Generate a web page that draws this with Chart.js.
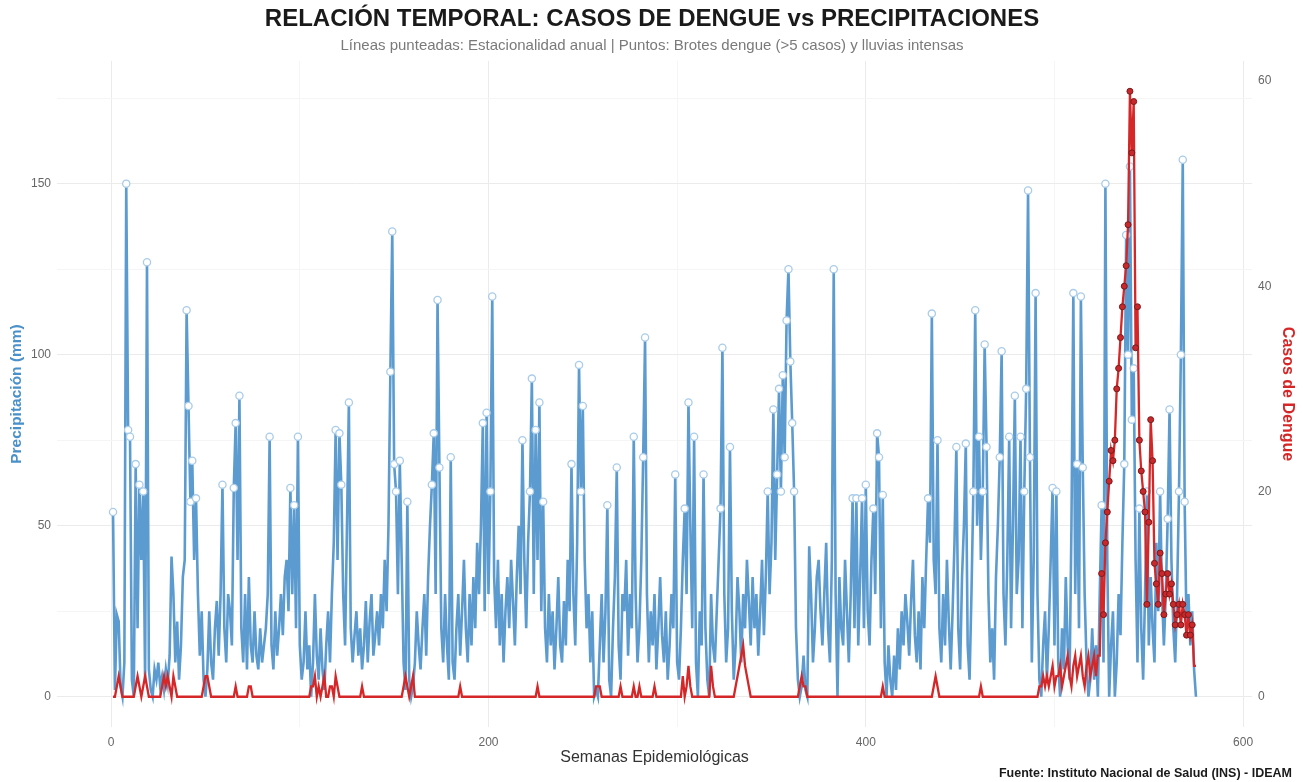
<!DOCTYPE html>
<html>
<head>
<meta charset="utf-8">
<script src="https://cdn.jsdelivr.net/npm/chart.js@4.4.1/dist/chart.umd.min.js"></script>
<style>
  html, body { margin: 0; padding: 0; background: #fff; }
  #wrap { width: 1304px; height: 782px; }
</style>
</head>
<body>
<div id="wrap"><canvas id="chart" width="1304" height="782"></canvas></div>
<script>
// precipitación semanal (mm), semanas 1..575
const precipitacion = [
  54,2,24,22,3,0,10,150,78,76,5,0,68,20,62,40,60,5,127,8,
  2,0,8,5,10,3,6,2,8,4,12,41,30,10,22,5,15,35,40,113,
  85,57,69,40,58,30,12,25,5,0,8,25,10,5,20,28,12,30,62,20,
  10,30,25,15,61,80,40,88,20,10,30,8,35,15,10,25,12,8,20,10,
  15,20,30,76,15,8,25,12,20,30,18,35,40,25,61,30,56,20,76,15,
  5,10,25,8,15,0,10,30,12,5,20,8,2,15,25,10,30,45,78,40,
  77,62,30,15,50,86,20,10,18,25,12,20,8,15,28,10,22,30,12,18,
  25,15,30,20,40,25,50,95,136,68,60,30,69,40,10,2,57,5,0,3,
  10,25,15,8,20,30,12,35,50,62,77,30,116,67,20,10,30,15,5,70,
  10,5,20,30,12,25,40,20,10,30,15,35,20,45,30,50,80,25,83,30,
  60,117,35,20,40,15,30,10,25,35,20,40,28,15,35,50,30,75,40,20,
  45,60,93,30,78,40,86,25,57,20,10,30,15,25,8,20,35,15,10,28,
  15,40,25,68,30,15,45,97,60,85,40,20,30,10,25,0,2,0,15,30,
  10,25,56,5,0,20,35,67,15,5,30,25,40,12,30,20,76,30,10,20,
  40,70,105,30,10,25,15,30,8,20,35,18,10,25,5,15,30,20,65,10,
  5,20,40,55,30,86,50,20,76,10,0,25,15,65,20,5,0,30,15,10,
  25,40,55,102,30,10,20,73,25,5,15,35,25,10,30,20,40,28,15,35,
  20,30,12,25,40,18,35,60,30,45,84,40,65,90,60,94,70,110,125,98,
  80,60,20,5,0,3,12,2,0,44,30,10,20,35,40,25,15,30,45,20,
  10,40,125,30,0,35,20,15,40,25,10,30,58,20,58,15,35,58,20,62,
  25,15,40,55,30,77,70,20,59,10,0,15,5,0,12,2,20,8,25,15,
  30,22,12,28,40,18,10,25,8,35,20,40,58,45,112,40,30,75,20,10,
  30,15,40,22,8,25,45,73,20,8,35,50,74,15,5,30,60,113,50,76,
  40,60,103,73,30,10,20,5,35,50,70,101,30,15,40,76,20,50,88,30,
  40,76,20,60,90,148,70,10,40,118,30,5,0,15,25,5,20,40,61,15,
  60,10,0,20,8,35,15,5,50,118,30,68,20,117,67,30,10,0,5,20,
  5,15,0,30,56,10,150,40,0,15,25,0,10,30,18,45,68,135,100,155,
  81,96,40,10,55,20,5,30,60,15,35,20,10,45,25,60,30,15,30,52,
  84,40,20,10,30,60,100,157,57,20,30,15,25,8,0
];

// casos de dengue semanales
const dengue = [
  0,0,1,2,1,0,0,0,0,0,0,0,1,2,1,0,1,2,1,0,
  0,0,0,0,0,0,1,2,1,2,1,0,2,1,0,0,0,0,0,0,
  0,0,0,0,0,0,0,0,1,2,2,1,0,0,0,0,0,0,0,0,
  0,0,0,0,0,1,0,0,0,0,0,0,1,1,0,0,0,0,0,0,
  0,0,0,0,0,0,0,0,0,0,0,0,0,0,0,0,0,0,0,0,
  0,0,0,0,0,1,1,2,0,1,0,1,2,0,0,1,1,0,2,1,
  0,0,0,0,0,0,0,0,0,0,0,0,1,0,0,0,0,0,0,0,
  0,0,0,0,0,0,0,0,0,0,0,0,0,0,1,2,1,0,1,2,
  0,0,0,0,0,0,0,0,0,0,0,0,0,0,0,0,0,0,0,0,
  0,0,0,0,1,0,0,0,0,0,0,0,0,0,0,0,0,0,0,0,
  0,0,0,0,0,0,0,0,0,0,0,0,0,0,0,0,0,0,0,0,
  0,0,0,0,0,1,0,0,0,0,0,0,0,0,0,0,0,0,0,0,
  0,0,0,0,0,0,0,0,0,0,0,0,0,0,0,0,1,1,1,0,
  0,0,0,0,0,0,0,0,0,1,0,0,0,0,0,0,1,0,0,1,
  0,0,0,0,0,0,0,1,0,0,0,0,0,0,0,0,0,0,0,0,
  0,0,2,0,1,3,1,0,0,0,0,0,0,0,0,0,0,3,1,0,
  0,0,0,0,0,0,0,0,0,0,1,2,3,4,5,3,2,1,0,0,
  0,0,0,0,0,0,0,0,0,0,0,0,0,0,0,0,0,0,0,0,
  0,0,0,0,1,2,1,1,0,0,0,0,0,0,0,0,0,0,0,0,
  0,0,0,0,0,0,0,0,0,0,0,0,0,0,0,0,0,0,0,0,
  0,0,0,0,0,0,0,0,1,0,0,0,0,0,0,0,0,0,0,0,
  0,0,0,0,0,0,0,0,0,0,0,0,0,0,0,1,2,1,0,0,
  0,0,0,0,0,0,0,0,0,0,0,0,0,0,0,0,0,0,0,0,
  1,0,0,0,0,0,0,0,0,0,0,0,0,0,0,0,0,0,0,0,
  0,0,0,0,0,0,0,0,0,0,0,1,1,2,1,2,1,2,3,1,
  2,2,3,1,2,3,4,2,1,3,4,2,3,4,2,1,3,4,2,3,
  4,2,4,4,12,8,15,18,21,24,23,25,30,32,35,38,40,42,46,59,
  53,58,34,38,25,22,20,18,9,17,27,23,13,11,9,14,12,8,10,12,
  10,11,9,7,8,9,7,9,8,6,8,6,7,3,3
];

const ticksX = [0, 100, 200, 300, 400, 500, 600];
const ticksPrecip = [0, 25, 50, 75, 100, 125, 150, 175];
const ticksDengue = [0, 20, 40, 60];

const semanas = precipitacion.map((_, i) => i + 1);
const FONT = "'Liberation Sans', Arial, sans-serif";

const textos = {
  id: 'textos',
  beforeDraw(c) {
    const ctx = c.ctx;
    ctx.save();
    ctx.fillStyle = '#fff';
    ctx.fillRect(0, 0, c.width, c.height);
    ctx.restore();
  },
  afterDraw(c) {
    const ctx = c.ctx;
    ctx.save();
    ctx.textAlign = 'center';
    ctx.textBaseline = 'middle';
    ctx.fillStyle = '#1a1a1a';
    ctx.font = 'bold 24px ' + FONT;
    ctx.fillText('RELACIÓN TEMPORAL: CASOS DE DENGUE vs PRECIPITACIONES', 652, 19);
    ctx.fillStyle = '#7a7a7a';
    ctx.font = '15px ' + FONT;
    ctx.fillText('Líneas punteadas: Estacionalidad anual | Puntos: Brotes dengue (>5 casos) y lluvias intensas', 652, 46);
    ctx.textAlign = 'right';
    ctx.fillStyle = '#1a1a1a';
    ctx.font = 'bold 12.5px ' + FONT;
    ctx.fillText('Fuente: Instituto Nacional de Salud (INS) - IDEAM', 1292, 774);
    ctx.restore();
  }
};

new Chart(document.getElementById('chart'), {
  type: 'line',
  data: {
    datasets: [
      {
        label: 'Casos de Dengue',
        data: semanas.map((s, i) => ({ x: s, y: dengue[i] })),
        yAxisID: 'y1',
        borderColor: '#D62728',
        borderWidth: 2.3,
        pointRadius: ctx => dengue[ctx.dataIndex] > 5 ? 3 : 0,
        pointBackgroundColor: '#C8282B',
        pointBorderColor: '#7B1A1A',
        pointBorderWidth: 1,
        tension: 0,
        order: 0
      },
      {
        label: 'Precipitación (mm)',
        data: semanas.map((s, i) => ({ x: s, y: precipitacion[i] })),
        yAxisID: 'y',
        borderColor: '#5B9BCF',
        borderWidth: 2.6,
        pointRadius: ctx => precipitacion[ctx.dataIndex] > 50 ? 3.6 : 0,
        pointBackgroundColor: '#ffffff',
        pointBorderColor: '#A9CCE9',
        pointBorderWidth: 1.3,
        tension: 0,
        order: 1
      }
    ]
  },
  options: {
    responsive: false,
    animation: false,
    layout: { padding: { top: 61, left: 0, right: 0, bottom: 0 } },
    plugins: {
      legend: { display: false },
      tooltip: { enabled: false }
    },
    scales: {
      x: {
        type: 'linear',
        min: -28.7,
        max: 604.7,
        afterBuildTicks: s => { s.ticks = ticksX.map(v => ({ value: v })); },
        afterFit: s => { s.height = 55; },
        ticks: {
          padding: 8,
          color: '#666',
          font: { family: FONT, size: 12 },
          callback: v => v % 200 === 0 ? v : ''
        },
        grid: {
          drawTicks: false,
          color: ctx => ctx.tick && ctx.tick.value % 200 === 0 ? '#ebebeb' : '#f5f5f5',
          lineWidth: 1
        },
        border: { display: false },
        title: {
          display: true,
          text: 'Semanas Epidemiológicas',
          color: '#333',
          font: { family: FONT, size: 16 },
          padding: { top: 0, bottom: 15 }
        }
      },
      y: {
        position: 'left',
        min: -8.85,
        max: 185.85,
        afterBuildTicks: s => { s.ticks = ticksPrecip.map(v => ({ value: v })); },
        afterFit: s => { s.width = 57; },
        ticks: {
          padding: 6,
          color: '#666',
          font: { family: FONT, size: 12 },
          callback: v => v % 50 === 0 ? v : ''
        },
        grid: {
          drawTicks: false,
          color: ctx => ctx.tick && ctx.tick.value % 50 === 0 ? '#ebebeb' : '#f5f5f5',
          lineWidth: 1
        },
        border: { display: false },
        title: {
          display: true,
          text: 'Precipitación (mm)',
          color: '#4A90C9',
          font: { family: FONT, size: 15.5, weight: 'bold' },
          padding: { top: 7, bottom: 0 }
        }
      },
      y1: {
        position: 'right',
        min: -2.95,
        max: 61.95,
        afterBuildTicks: s => { s.ticks = ticksDengue.map(v => ({ value: v })); },
        afterFit: s => { s.width = 52; },
        ticks: {
          padding: 6,
          color: '#666',
          font: { family: FONT, size: 12 }
        },
        grid: { drawOnChartArea: false, drawTicks: false },
        border: { display: false },
        title: {
          display: true,
          text: 'Casos de Dengue',
          color: '#D62728',
          font: { family: FONT, size: 16, weight: 'bold' },
          padding: { top: 7, bottom: 0 }
        }
      }
    }
  },
  plugins: [textos]
});
</script>
</body>
</html>
